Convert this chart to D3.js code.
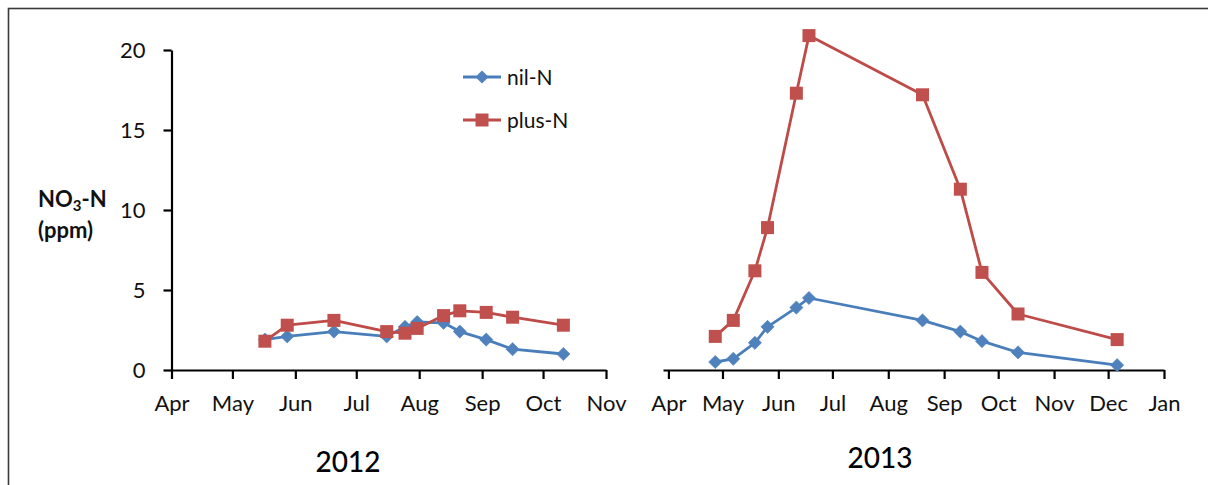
<!DOCTYPE html>
<html><head><meta charset="utf-8">
<script src="https://cdn.jsdelivr.net/npm/d3@7"></script>
<style>
html,body{margin:0;padding:0;background:#fff;}
svg{display:block;font-family:Lato,"Open Sans",sans-serif;}
</style></head>
<body>
<svg id="chart" width="1208" height="485"></svg>
<script>
// ---------- data ----------
const dates2012 = ["2012-05-17","2012-05-28","2012-06-20","2012-07-16","2012-07-25","2012-07-31","2012-08-13","2012-08-21","2012-09-03","2012-09-16","2012-10-11"];
const nil2012   = [1.9, 2.1, 2.4, 2.1, 2.7, 3.0, 2.95, 2.4, 1.9, 1.3, 1.0];
const plus2012  = [1.8, 2.8, 3.1, 2.4, 2.3, 2.6, 3.4, 3.7, 3.6, 3.3, 2.8];

const dates2013 = ["2013-04-27","2013-05-07","2013-05-19","2013-05-26","2013-06-11","2013-06-18","2013-08-20","2013-09-10","2013-09-22","2013-10-12","2013-12-06"];
const nil2013   = [0.5, 0.7, 1.7, 2.7, 3.9, 4.5, 3.1, 2.4, 1.8, 1.1, 0.3];
const plus2013  = [2.1, 3.1, 6.2, 8.9, 17.3, 20.9, 17.2, 11.3, 6.1, 3.5, 1.9];

const monthLabels2012 = ["Apr","May","Jun","Jul","Aug","Sep","Oct","Nov"];
const monthLabels2013 = ["Apr","May","Jun","Jul","Aug","Sep","Oct","Nov","Dec","Jan"];
const yTicks = [0, 5, 10, 15, 20];
const seriesNames = ["nil-N", "plus-N"];
const yearLabels = ["2012", "2013"];

// ---------- setup ----------
const parse = d3.timeParse("%Y-%m-%d");
const svg = d3.select("#chart");
const BLUE_LINE = "#4A7EBB", BLUE = "#4F81BD", RED_LINE = "#BE4B48", RED = "#C0504D";
const TXT = "#111";

// outer frame
svg.append("rect").attr("x", 8.5).attr("y", 8.5).attr("width", 1400).attr("height", 700)
  .attr("fill", "none").attr("stroke", "#3a3a3a").attr("stroke-width", 1.6);

const y = d3.scaleLinear().domain([0, 20]).range([370, 50]);

const x1 = d3.scaleTime().domain([parse("2012-04-01"), parse("2012-11-01")]).range([171.5, 606]);
const x2 = d3.scaleTime().domain([parse("2013-03-29"), parse("2014-01-01")]).range([663, 1164]);

const ticks1 = d3.timeMonth.range(parse("2012-04-01"), parse("2012-11-02"));
const ticks2 = d3.timeMonth.range(parse("2013-04-01"), parse("2014-01-02"));

function styleAxis(g) {
  g.selectAll("path.domain").attr("stroke", "#000").attr("stroke-width", 2.2);
  g.selectAll(".tick line").attr("stroke", "#000").attr("stroke-width", 2.2);
  g.selectAll(".tick text").attr("fill", TXT).attr("font-size", 22)
    .attr("font-family", "Lato, 'Open Sans', sans-serif");
}

// y axis
const gy = svg.append("g").attr("transform", "translate(171.5,0)")
  .call(d3.axisLeft(y).tickValues(yTicks).tickSize(8).tickPadding(18).tickSizeOuter(0));
styleAxis(gy);
gy.selectAll(".tick text").attr("dy", "0.36em");

// x axes
const gx1 = svg.append("g").attr("transform", "translate(0,370)")
  .call(d3.axisBottom(x1).tickValues(ticks1).tickSize(9).tickSizeOuter(0).tickPadding(16)
    .tickFormat((d, i) => monthLabels2012[i]));
styleAxis(gx1);
const gx2 = svg.append("g").attr("transform", "translate(0,370)")
  .call(d3.axisBottom(x2).tickValues(ticks2).tickSize(9).tickSizeOuter(0).tickPadding(16)
    .tickFormat((d, i) => monthLabels2013[i]));
styleAxis(gx2);

// series drawing
const diamond = r => `M0,${-r}L${r},0L0,${r}L${-r},0Z`;
function drawSeries(x, dates, vals, lineColor, fill, shape) {
  const pts = dates.map((d, i) => ({ d: parse(d), v: vals[i] }));
  const line = d3.line().x(p => x(p.d)).y(p => y(p.v));
  svg.append("path").datum(pts).attr("d", line).attr("fill", "none")
    .attr("stroke", lineColor).attr("stroke-width", 2.8).attr("stroke-linejoin", "round");
  const g = svg.append("g");
  if (shape === "diamond") {
    g.selectAll("path").data(pts).join("path")
      .attr("transform", p => `translate(${x(p.d)},${y(p.v)})`)
      .attr("d", diamond(6.6)).attr("fill", fill).attr("stroke", fill).attr("stroke-width", 0.6);
  } else {
    g.selectAll("rect").data(pts).join("rect")
      .attr("x", p => x(p.d) - 6.5).attr("y", p => y(p.v) - 6.5)
      .attr("width", 13).attr("height", 13).attr("fill", fill);
  }
}
drawSeries(x1, dates2012, nil2012, BLUE_LINE, BLUE, "diamond");
drawSeries(x1, dates2012, plus2012, RED_LINE, RED, "square");
drawSeries(x2, dates2013, nil2013, BLUE_LINE, BLUE, "diamond");
drawSeries(x2, dates2013, plus2013, RED_LINE, RED, "square");

// legend
const legend = [
  { name: seriesNames[0], line: BLUE_LINE, fill: BLUE, shape: "diamond", y: 77 },
  { name: seriesNames[1], line: RED_LINE, fill: RED, shape: "square", y: 120 }
];
legend.forEach(l => {
  svg.append("line").attr("x1", 463).attr("x2", 501).attr("y1", l.y).attr("y2", l.y)
    .attr("stroke", l.line).attr("stroke-width", 2.8);
  if (l.shape === "diamond") {
    svg.append("path").attr("transform", `translate(482,${l.y})`).attr("d", diamond(6.6)).attr("fill", l.fill);
  } else {
    svg.append("rect").attr("x", 475.5).attr("y", l.y - 6.5).attr("width", 13).attr("height", 13).attr("fill", l.fill);
  }
  svg.append("text").attr("x", 507).attr("y", l.y + 8).attr("font-size", 21).attr("fill", TXT).text(l.name);
});

// y label
const yl = svg.append("text").attr("x", 38).attr("y", 206.5).attr("font-size", 22)
  .attr("font-weight", "bold").attr("fill", TXT);
yl.append("tspan").text("NO");
yl.append("tspan").attr("font-size", 15).attr("dy", 4).text("3");
yl.append("tspan").attr("dy", -4).text("-N");
svg.append("text").attr("x", 38).attr("y", 238).attr("font-size", 22)
  .attr("font-weight", "bold").attr("fill", TXT).text("(ppm)");

// year labels
svg.append("text").attr("x", 348).attr("y", 472).attr("text-anchor", "middle")
  .attr("font-size", 28).attr("font-weight", 500).attr("fill", "#000").text(yearLabels[0]);
svg.append("text").attr("x", 880).attr("y", 468).attr("text-anchor", "middle")
  .attr("font-size", 28).attr("font-weight", 500).attr("fill", "#000").text(yearLabels[1]);
</script>
</body></html>
